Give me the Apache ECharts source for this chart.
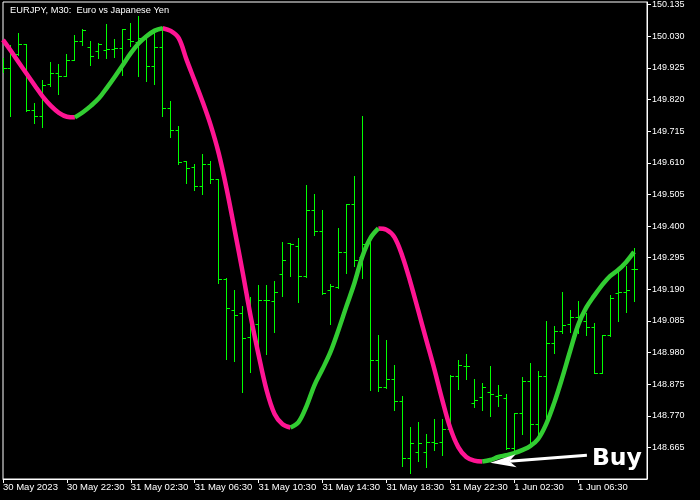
<!DOCTYPE html>
<html><head><meta charset="utf-8">
<script src="https://cdn.jsdelivr.net/npm/echarts@6/dist/echarts.min.js"></script>
<style>html,body{margin:0;padding:0;background:#000}#c{width:700px;height:500px}</style>
</head><body><div id="c"></div>
<script>
// ---- data (EURJPY M30) ----
const xLabels = ['30 May 2023','30 May 22:30','31 May 02:30','31 May 06:30','31 May 10:30','31 May 14:30','31 May 18:30','31 May 22:30','1 Jun 02:30','1 Jun 06:30'];
const xLabelBars = [0,8,16,24,32,40,48,56,64,72];
const yTicks = [148.665,148.770,148.875,148.980,149.085,149.190,149.295,149.400,149.505,149.610,149.715,149.820,149.925,150.030,150.135];

const opens = [149.931,149.924,149.969,150.003,149.785,149.765,149.871,149.907,149.895,149.951,
150.014,149.992,149.981,149.984,149.987,149.990,150.018,150.011,150.024,149.931,
149.994,149.789,149.718,149.613,149.595,149.531,149.605,149.553,149.223,149.121,
149.110,149.030,149.074,149.154,149.151,149.240,149.343,149.331,149.232,149.450,
149.383,149.187,149.195,149.313,149.470,149.294,149.354,148.953,148.863,148.889,
148.819,148.629,148.647,148.647,148.682,148.680,148.725,148.902,148.935,148.811,
148.829,148.848,148.833,148.828,148.662,148.776,148.885,148.741,148.900,149.010,
149.049,149.074,149.097,149.082,149.062,148.911,149.035,149.176,149.178,149.256];
const highs = [149.958,150.001,150.038,150.003,149.807,149.883,149.944,149.935,149.971,150.034,
150.052,150.012,150.007,150.068,150.021,150.054,150.073,150.097,150.034,150.054,
150.059,149.815,149.729,149.616,149.606,149.639,149.616,149.553,149.226,149.187,
149.132,149.162,149.204,149.204,149.217,149.347,149.343,149.357,149.533,149.506,
149.450,149.207,149.393,149.470,149.566,149.763,149.354,149.035,149.019,148.938,
148.833,148.730,148.747,148.709,148.756,148.758,148.905,148.955,148.975,148.889,
148.878,148.933,148.870,148.839,148.778,148.896,148.944,148.918,149.082,149.066,
149.178,149.118,149.151,149.110,149.077,149.038,149.171,149.248,149.265,149.326];
const lows = [149.911,149.763,149.968,149.780,149.739,149.728,149.863,149.838,149.895,149.951,
150.001,149.932,149.957,149.955,149.959,149.901,149.995,149.896,149.879,149.871,
149.763,149.693,149.604,149.540,149.517,149.504,149.540,149.210,148.958,148.949,
148.848,148.913,148.999,148.975,149.046,149.165,149.232,149.145,149.228,149.368,
149.173,149.074,149.193,149.243,149.265,149.226,148.853,148.850,148.860,148.787,
148.601,148.579,148.617,148.599,148.654,148.639,148.725,148.858,148.891,148.797,
148.786,148.767,148.800,148.659,148.645,148.708,148.678,148.700,148.756,148.977,
149.044,149.047,149.044,149.038,148.911,148.911,149.032,149.082,149.112,149.151];
const closes = [149.924,149.969,150.003,149.785,149.765,149.867,149.907,149.895,149.951,150.014,
150.048,149.964,150.003,149.987,149.990,150.054,150.012,150.024,149.929,149.992,
149.791,149.718,149.612,149.592,149.531,149.605,149.553,149.223,149.127,149.104,
149.027,149.060,149.154,149.154,149.180,149.286,149.339,149.232,149.450,149.383,
149.177,149.198,149.313,149.470,149.284,149.339,148.955,148.863,148.889,148.819,
148.629,148.678,148.678,148.682,148.678,148.725,148.902,148.937,148.935,148.822,
148.863,148.841,148.836,148.662,148.776,148.885,148.741,148.900,149.010,149.049,
149.071,149.097,149.082,149.064,148.911,149.035,149.160,149.178,149.187,149.256];
const maLine = [150.018,149.981,149.942,149.904,149.866,149.829,149.799,149.776,149.763,149.761,
149.778,149.799,149.824,149.859,149.896,149.935,149.974,150.007,150.031,150.049,
150.057,150.048,150.024,149.951,149.882,149.812,149.735,149.642,149.523,149.387,
149.247,149.101,148.972,148.855,148.776,148.742,148.731,148.749,148.802,148.872,
148.925,148.982,149.055,149.134,149.211,149.300,149.360,149.392,149.388,149.363,
149.300,149.214,149.118,149.021,148.925,148.822,148.729,148.666,148.633,148.621,
148.618,148.623,148.633,148.639,148.646,148.656,148.669,148.693,148.742,148.812,
148.895,148.985,149.071,149.128,149.168,149.204,149.234,149.254,149.280,149.314];
// Buy annotation anchor: arrow tip and tail (bar index, price)
const buyArrow = [61.0, 148.614, 73.1, 148.639];

// ---- build series data ----
const ohlc = opens.map((o, i) => [i, o, highs[i], lows[i], closes[i]]);
const upData = [], dnData = [];
(function () {
  let runStart = 0;
  let dir = maLine[1] < maLine[0] ? 'dn' : 'up';
  for (let i = 2; i <= maLine.length; i++) {
    const d = i < maLine.length ? (maLine[i] < maLine[i - 1] ? 'dn' : 'up') : null;
    if (d !== dir) {
      const target = dir === 'dn' ? dnData : upData;
      for (let k = runStart; k <= i - 1; k++) target.push([k, maLine[k]]);
      target.push([i - 1, null]);
      runStart = i - 1;
      dir = d;
    }
  }
})();

const FONT = 'Liberation Sans';
const chart = echarts.init(document.getElementById('c'), null, {renderer: 'canvas'});
chart.setOption({
  backgroundColor: '#000000',
  animation: false,
  title: {
    text: 'EURJPY, M30:  Euro vs Japanese Yen',
    left: 5, top: 1,
    textStyle: {color: '#ffffff', fontSize: 9.3, fontWeight: 'normal', fontFamily: FONT}
  },
  grid: {left: 2, right: 53, top: 2, bottom: 21, show: true, borderColor: '#ffffff', borderWidth: 1, backgroundColor: 'transparent'},
  xAxis: {
    type: 'value', min: 0, max: 80.625,
    axisLine: {show: true, onZero: false, lineStyle: {color: '#ffffff', width: 1}},
    axisTick: {show: true, length: 4, customValues: xLabelBars, lineStyle: {color: '#ffffff'}},
    axisLabel: {
      show: true, customValues: xLabelBars, color: '#ffffff', fontSize: 9.5, fontFamily: FONT,
      align: 'left', margin: 3,
      formatter: v => xLabels[xLabelBars.indexOf(Math.round(v))] || ''
    },
    splitLine: {show: false}
  },
  yAxis: {
    type: 'value', position: 'right', min: 148.560, max: 150.144, scale: true,
    axisLine: {show: true, onZero: false, lineStyle: {color: '#ffffff', width: 1}},
    axisTick: {show: true, length: 4, customValues: yTicks, lineStyle: {color: '#ffffff'}},
    axisLabel: {
      show: true, customValues: yTicks, color: '#ffffff', fontSize: 9, fontFamily: FONT,
      margin: 5, verticalAlign: 'middle',
      formatter: v => Number(v).toFixed(3)
    },
    splitLine: {show: false}
  },
  series: [
    {
      type: 'custom', name: 'bars', data: ohlc, clip: true, silent: true,
      encode: {x: 0, y: [1, 2, 3, 4]},
      renderItem: function (params, api) {
        const i = api.value(0);
        const o = api.coord([i, api.value(1)]);
        const h = api.coord([i, api.value(2)]);
        const l = api.coord([i, api.value(3)]);
        const c = api.coord([i, api.value(4)]);
        const x = Math.floor(o[0]) + 0.5;
        const yo = Math.floor(o[1]) + 0.5, yc = Math.floor(c[1]) + 0.5;
        const st = {stroke: '#00ff00', lineWidth: 1};
        return {type: 'group', children: [
          {type: 'line', shape: {x1: x, y1: Math.floor(h[1]), x2: x, y2: Math.floor(l[1]) + 1}, style: st},
          {type: 'line', shape: {x1: x - 3, y1: yo, x2: x, y2: yo}, style: st},
          {type: 'line', shape: {x1: x, y1: yc, x2: x + 3.5, y2: yc}, style: st}
        ]};
      }
    },
    {
      type: 'line', name: 'down', data: dnData, showSymbol: false, connectNulls: false, silent: true, smooth: 0.35,
      lineStyle: {color: '#ff1493', width: 4.5, join: 'round', cap: 'butt'}, z: 3
    },
    {
      type: 'line', name: 'up', data: upData, showSymbol: false, connectNulls: false, silent: true, smooth: 0.35,
      lineStyle: {color: '#32cd32', width: 4.5, join: 'round', cap: 'butt'}, z: 3
    },
    {
      type: 'custom', name: 'buy', data: [buyArrow], silent: true, z: 10, clip: false,
      encode: {x: [0, 2], y: [1, 3]},
      renderItem: function (params, api) {
        const tip = api.coord([api.value(0), api.value(1)]);
        const tail = api.coord([api.value(2), api.value(3)]);
        const dx = tail[0] - tip[0], dy = tail[1] - tip[1];
        const len = Math.hypot(dx, dy), ux = dx / len, uy = dy / len, px = -uy, py = ux;
        const headL = 26, headW = 6.5, notch = 19;
        const b1 = [tip[0] + ux * headL + px * headW, tip[1] + uy * headL + py * headW];
        const b2 = [tip[0] + ux * headL - px * headW, tip[1] + uy * headL - py * headW];
        const n = [tip[0] + ux * notch, tip[1] + uy * notch];
        return {type: 'group', children: [
          {type: 'line', shape: {x1: n[0], y1: n[1], x2: tail[0], y2: tail[1]}, style: {stroke: '#ffffff', lineWidth: 3}},
          {type: 'polygon', shape: {points: [tip, b1, n, b2]}, style: {fill: '#ffffff'}},
          {type: 'text', x: tail[0] + 5, y: tail[1] + 4,
           style: {text: 'Buy', fill: '#ffffff', font: 'bold 23.5px "DejaVu Sans"', verticalAlign: 'middle', align: 'left'}}
        ]};
      }
    }
  ]
});
</script>
</body></html>
